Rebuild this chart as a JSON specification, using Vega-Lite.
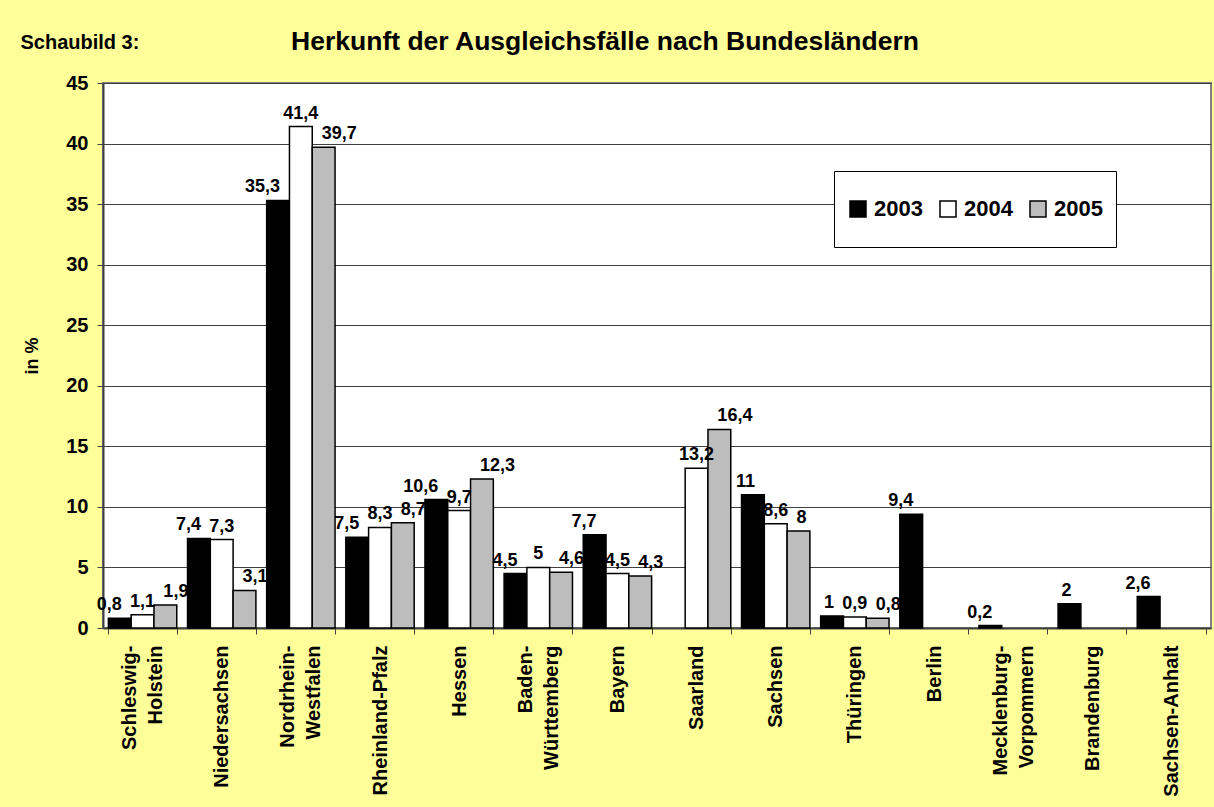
{
  "$schema": "https://vega.github.io/schema/vega-lite/v6.json",
  "width": 1108,
  "height": 545,
  "autosize": {"type": "none"},
  "padding": {"left": 103, "top": 83, "right": 3, "bottom": 179},
  "background": "#FFFF99",
  "title": {
    "text": "Herkunft der Ausgleichsfälle nach Bundesländern",
    "fontSize": 26.5,
    "fontWeight": "bold",
    "font": "Liberation Sans",
    "color": "black",
    "anchor": "middle",
    "frame": "group",
    "dx": -52,
    "baseline": "alphabetic",
    "offset": -44
  },
  "data": {
    "values": [
      {"land": "Schleswig-|Holstein", "jahr": "2003", "wert": 0.8},
      {"land": "Schleswig-|Holstein", "jahr": "2004", "wert": 1.1},
      {"land": "Schleswig-|Holstein", "jahr": "2005", "wert": 1.9},
      {"land": "Niedersachsen", "jahr": "2003", "wert": 7.4},
      {"land": "Niedersachsen", "jahr": "2004", "wert": 7.3},
      {"land": "Niedersachsen", "jahr": "2005", "wert": 3.1},
      {"land": "Nordrhein-|Westfalen", "jahr": "2003", "wert": 35.3},
      {"land": "Nordrhein-|Westfalen", "jahr": "2004", "wert": 41.4},
      {"land": "Nordrhein-|Westfalen", "jahr": "2005", "wert": 39.7},
      {"land": "Rheinland-Pfalz", "jahr": "2003", "wert": 7.5},
      {"land": "Rheinland-Pfalz", "jahr": "2004", "wert": 8.3},
      {"land": "Rheinland-Pfalz", "jahr": "2005", "wert": 8.7},
      {"land": "Hessen", "jahr": "2003", "wert": 10.6},
      {"land": "Hessen", "jahr": "2004", "wert": 9.7},
      {"land": "Hessen", "jahr": "2005", "wert": 12.3},
      {"land": "Baden-|Württemberg", "jahr": "2003", "wert": 4.5},
      {"land": "Baden-|Württemberg", "jahr": "2004", "wert": 5},
      {"land": "Baden-|Württemberg", "jahr": "2005", "wert": 4.6},
      {"land": "Bayern", "jahr": "2003", "wert": 7.7},
      {"land": "Bayern", "jahr": "2004", "wert": 4.5},
      {"land": "Bayern", "jahr": "2005", "wert": 4.3},
      {"land": "Saarland", "jahr": "2004", "wert": 13.2},
      {"land": "Saarland", "jahr": "2005", "wert": 16.4},
      {"land": "Sachsen", "jahr": "2003", "wert": 11},
      {"land": "Sachsen", "jahr": "2004", "wert": 8.6},
      {"land": "Sachsen", "jahr": "2005", "wert": 8},
      {"land": "Thüringen", "jahr": "2003", "wert": 1},
      {"land": "Thüringen", "jahr": "2004", "wert": 0.9},
      {"land": "Thüringen", "jahr": "2005", "wert": 0.8},
      {"land": "Berlin", "jahr": "2003", "wert": 9.4},
      {"land": "Mecklenburg-|Vorpommern", "jahr": "2003", "wert": 0.2},
      {"land": "Brandenburg", "jahr": "2003", "wert": 2},
      {"land": "Sachsen-Anhalt", "jahr": "2003", "wert": 2.6}
    ]
  },
  "encoding": {
    "xOffset": {
      "field": "jahr",
      "type": "nominal",
      "scale": {"domain": ["2003", "2004", "2005"], "paddingInner": 0, "paddingOuter": 0}
    },
    "y": {
      "field": "wert",
      "type": "quantitative",
      "scale": {"domain": [0, 45], "nice": false},
      "axis": {
        "title": "in %",
        "titleFontSize": 18,
        "titleFontWeight": "bold",
        "titleColor": "black",
        "titlePadding": 24,
        "values": [0, 5, 10, 15, 20, 25, 30, 35, 40, 45],
        "format": "d",
        "labelFontSize": 20,
        "labelFontWeight": "bold",
        "labelColor": "black",
        "labelPadding": 9,
        "tickSize": 6,
        "tickColor": "#404040",
        "domainColor": "#404040",
        "domainWidth": 2,
        "grid": true,
        "gridColor": "#404040",
        "gridWidth": 1
      }
    }
  },
  "resolve": {"axis": {"x": "independent"}},
  "layer": [
    {
      "mark": {"type": "bar", "stroke": "black", "strokeWidth": 1.5},
      "encoding": {
        "x": {
          "field": "land",
          "type": "nominal",
          "sort": null,
          "scale": {"paddingInner": 0.136, "paddingOuter": 0.068},
          "axis": {
            "orient": "bottom",
            "title": "Schaubild 3:",
            "titleX": -83,
            "titleY": -580,
            "titleAlign": "left",
            "titleBaseline": "alphabetic",
            "titleAngle": 0,
            "titleFontSize": 20,
            "titleFontWeight": "bold",
            "titleColor": "black",
            "labelAngle": -90,
            "labelAlign": "right",
            "labelBaseline": "middle",
            "labelFontSize": 20,
            "labelFontWeight": "bold",
            "labelColor": "black",
            "labelPadding": 11,
            "labelLimit": 400,
            "labelOverlap": false,
            "labelExpr": "length(split(datum.label, '|')) > 1 ? '' : datum.label",
            "tickBand": "extent",
            "tickSize": 6,
            "tickColor": "#404040",
            "domainColor": "#404040",
            "domainWidth": 2,
            "grid": false
          }
        },
        "color": {
          "field": "jahr",
          "type": "nominal",
          "scale": {"domain": ["2003", "2004", "2005"], "range": ["#000000", "#FFFFFF", "#BDBDBD"]},
          "legend": {
            "title": null,
            "orient": "none",
            "legendX": 731,
            "legendY": 88,
            "direction": "horizontal",
            "fillColor": "white",
            "strokeColor": "black",
            "padding": 13,
            "columnPadding": 14,
            "labelOffset": 5,
            "labelFontSize": 22,
            "labelFontWeight": "bold",
            "labelColor": "black",
            "symbolType": "square",
            "symbolSize": 256,
            "symbolStrokeColor": "black",
            "symbolStrokeWidth": 1.5,
            "symbolOpacity": 1,
            "clipHeight": 50
          }
        }
      }
    },
    {
      "transform": [{"filter": "datum.jahr == '2003'"}],
      "mark": {"type": "text", "dy": -4, "dx": 2, "align": "right", "baseline": "bottom", "fontSize": 18, "fontWeight": "bold", "color": "black"},
      "encoding": {
        "x": {"field": "land", "type": "nominal", "sort": null, "axis": null},
        "text": {"field": "wert", "type": "quantitative", "format": ".1~f"}
      }
    },
    {
      "transform": [{"filter": "datum.jahr == '2004'"}],
      "mark": {"type": "text", "dy": -4, "align": "center", "baseline": "bottom", "fontSize": 18, "fontWeight": "bold", "color": "black"},
      "encoding": {
        "x": {
          "field": "land",
          "type": "nominal",
          "sort": null,
          "axis": {
            "orient": "bottom",
            "title": null,
            "labelAngle": -90,
            "labelAlign": "right",
            "labelBaseline": "middle",
            "labelFontSize": 20,
            "labelFontWeight": "bold",
            "labelColor": "black",
            "labelPadding": 11,
            "labelLineHeight": 26,
            "labelOffset": -13,
            "labelLimit": 400,
            "labelOverlap": false,
            "labelExpr": "length(split(datum.label, '|')) > 1 ? split(datum.label, '|') : ''",
            "tickBand": "extent",
            "tickSize": 6,
            "tickOpacity": 0,
            "domain": false,
            "grid": false
          }
        },
        "text": {"field": "wert", "type": "quantitative", "format": ".1~f"}
      }
    },
    {
      "transform": [{"filter": "datum.jahr == '2005'"}],
      "mark": {"type": "text", "dy": -4, "dx": -2, "align": "left", "baseline": "bottom", "fontSize": 18, "fontWeight": "bold", "color": "black"},
      "encoding": {
        "x": {"field": "land", "type": "nominal", "sort": null, "axis": null},
        "text": {"field": "wert", "type": "quantitative", "format": ".1~f"}
      }
    }
  ],
  "config": {
    "font": "Liberation Sans",
    "view": {"stroke": "#808080", "strokeWidth": 2, "fill": "white"},
    "locale": {
      "number": {"decimal": ",", "thousands": ".", "grouping": [3], "currency": ["", " €"]}
    }
  }
}
